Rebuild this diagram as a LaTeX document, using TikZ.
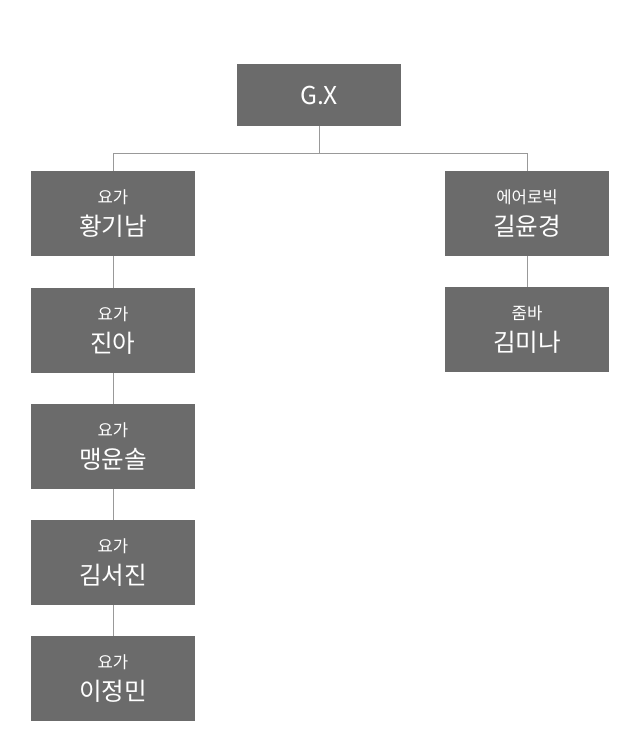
\documentclass[tikz,border=0pt]{standalone}
\usepackage{fontspec}
\setmainfont{Noto Sans CJK KR}
\usepackage{tikz}
\usetikzlibrary{positioning}
\definecolor{boxgray}{HTML}{6B6B6B}
\definecolor{linegray}{HTML}{999999}
\tikzset{
  staffbox/.style={fill=boxgray,text=white,minimum width=164*0.02cm,minimum height=85*0.02cm,inner sep=0pt,align=center,font=\fontsize{14}{17}\selectfont},
  topbox/.style={staffbox,minimum height=62*0.02cm},
  link/.style={draw=linegray,line width=0.5pt}
}
\newcommand{\role}[1]{{\fontsize{9.5}{13}\selectfont #1}\\[1pt]}
\begin{document}
\begin{tikzpicture}[x=0.02cm,y=-0.02cm]
        \useasboundingbox (0,0) rectangle (640,751);
        %%% TOP %%%
        \node[topbox] (gx) at (319,95) {G.X};
        \coordinate (split) at (319,153);
        %%% LEFT COLUMN %%%
        \node[staffbox] (hwang) at (113,213.5) {\role{요가}황기남};
        \node[staffbox] (jin) at (113,330.5) {\role{요가}진아};
        \node[staffbox] (maeng) at (113,446.5) {\role{요가}맹윤솔};
        \node[staffbox] (kimsj) at (113,562.5) {\role{요가}김서진};
        \node[staffbox] (lee) at (113,678.5) {\role{요가}이정민};
        %%% RIGHT COLUMN %%%
        \node[staffbox] (gil) at (527,213.5) {\role{에어로빅}길윤경};
        \node[staffbox] (kimmn) at (527,329.5) {\role{줌바}김미나};
        %%% CONNECTORS %%%
        \draw[link] (gx.south) -- (split) -| (hwang.north);
        \draw[link] (split) -| (gil.north);
        \foreach \a/\b in {hwang/jin,jin/maeng,maeng/kimsj,kimsj/lee,gil/kimmn}
          \draw[link] (\a.south) -- (\b.north);
\end{tikzpicture}
\end{document}
